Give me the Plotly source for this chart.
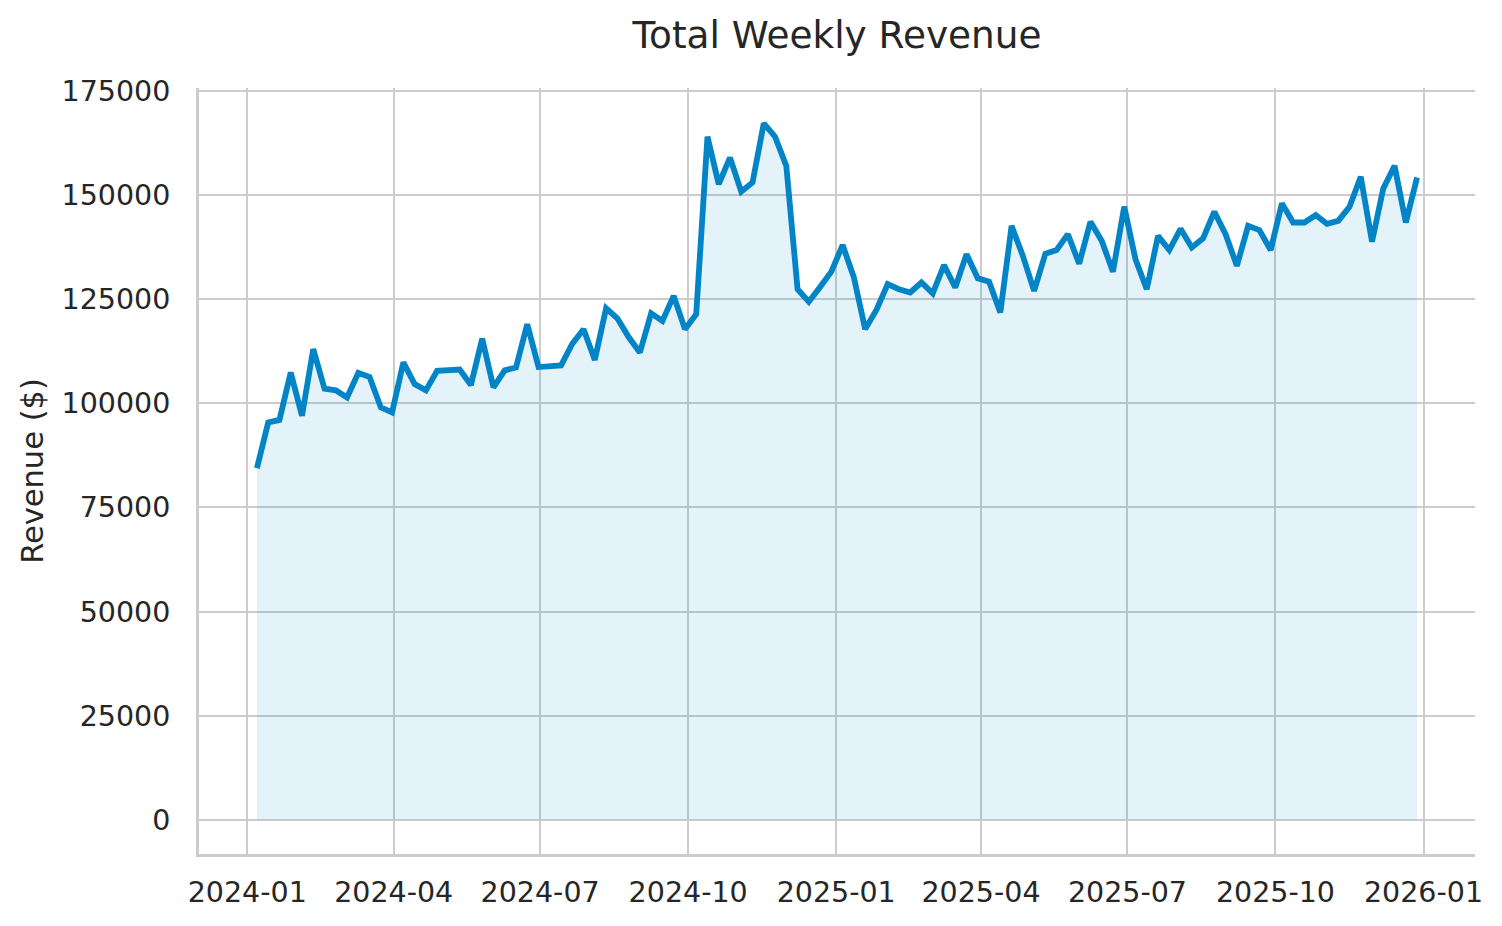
import pandas as pd
import plotly.graph_objects as go

# Weekly dates (Sundays) and revenue values
week_start = "2024-01-07"
n_weeks = 104
weeks = pd.date_range(week_start, periods=n_weeks, freq="W-SUN")

revenue = [
    84400, 95400, 96000, 107400, 97000, 113000, 103500, 103100, 101400, 107300,
    106300, 99000, 97800, 109800, 104600, 103100, 107800, 108000, 108100, 104400,
    115500, 103800, 107900, 108600, 119000, 108700, 109000, 109100, 114300, 117800,
    110400, 122800, 120400, 115900, 112200, 121600, 119800, 125800, 117800, 121400,
    164000, 152600, 159000, 150800, 153000, 167200, 164000, 157000, 127400, 124400,
    127900, 131600, 138000, 130200, 117800, 122400, 128600, 127400, 126600, 129000,
    126400, 133200, 127800, 135800, 130000, 129200, 121800, 142600, 135400, 127000,
    135900, 136800, 140600, 133500, 143600, 139000, 131600, 147200, 134600, 127400,
    140200, 136800, 141900, 137400, 139600, 146000, 140600, 133000, 142600, 141600,
    136800, 148000, 143400, 143400, 145200, 143100, 143800, 147200, 154400, 138800,
    151600, 157000, 143400, 154200,
]

title_text = "Total Weekly Revenue"
y_title = "Revenue ($)"

LINE = "#0284c7"
FILL = "rgba(2,132,199,0.105)"
TEXT = "#262626"
GRID = "#cccccc"
FONT = "DejaVu Sans"

W, H = 1486, 910

fig = go.Figure()
fig.add_trace(go.Scatter(
    x=weeks, y=revenue, mode="lines",
    line=dict(color=LINE, width=5.8),
    fill="tozeroy", fillcolor=FILL,
    hoverinfo="skip", showlegend=False,
))

fig.update_layout(
    width=W, height=H,
    margin=dict(l=191, r=19, t=80, b=64, autoexpand=False),
    paper_bgcolor="white", plot_bgcolor="white",
    font=dict(family=FONT, color=TEXT),
    title=dict(text=title_text, xref="paper", x=0.5, xanchor="center",
               yref="container", y=1 - 27 / H, yanchor="middle",
               font=dict(family=FONT, size=37.4, color=TEXT)),
)

fig.update_xaxes(
    range=["2023-12-02", "2026-02-02"],
    tick0="2024-01-01", dtick="M3", tickformat="%Y-%m",
    showgrid=True, gridcolor=GRID, gridwidth=2.4,
    showline=True, linecolor=GRID, linewidth=2.8,
    ticks="", ticklabelstandoff=11,
    tickfont=dict(family=FONT, size=28.5, color=TEXT),
    zeroline=False,
)
fig.update_yaxes(
    range=[-8220, 175700],
    tick0=0, dtick=25000, tickformat=".0f",
    showgrid=True, gridcolor=GRID, gridwidth=2.4,
    showline=True, linecolor=GRID, linewidth=2.8,
    ticks="", ticklabelstandoff=20,
    tickfont=dict(family=FONT, size=28.5, color=TEXT),
    zeroline=False,
    title=dict(text=y_title, standoff=9, font=dict(family=FONT, size=30.5, color=TEXT)),
)

fig.write_html("out.html")
